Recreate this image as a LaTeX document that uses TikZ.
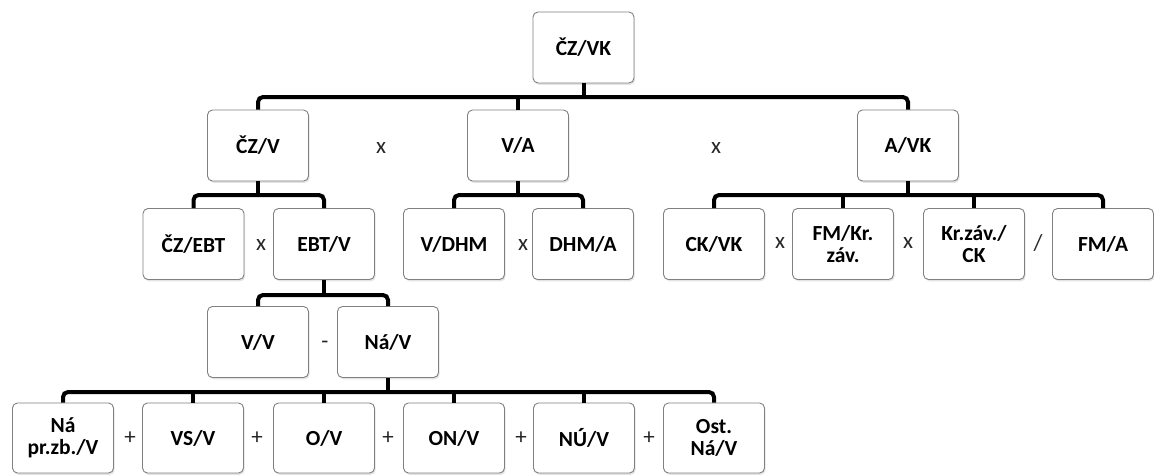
\documentclass[tikz,border=0pt]{standalone}
\usepackage{fontspec}
\setmainfont{Carlito}
\usetikzlibrary{shadows}

\tikzset{
  ratio/.style={
    draw=black!50, line width=0.9pt, fill=white, rounded corners=5pt,
    minimum width=101pt, minimum height=71pt, inner sep=2pt,
    align=center, font=\bfseries\fontsize{21.5}{22}\selectfont,
    drop shadow={shadow xshift=1.2pt, shadow yshift=-1.8pt, opacity=0.22}
  },
  ratiolow/.style={ratio, minimum height=70pt},
  op/.style={font=\fontsize{23}{24}\selectfont, text=black!85, inner sep=0pt},
  link/.style={line width=4pt, line cap=butt},
  bar/.style={link, rounded corners=5pt}
}

\begin{document}
\begin{tikzpicture}[x=1pt, y=1pt]
\useasboundingbox (0,0) rectangle (1154,-475);

% top ratio
\node[ratio] (root) at (583.5,-47.5) {ČZ/VK};

% first decomposition
\node[ratio] (a) at (258,-145.5) {ČZ/V};
\node[ratio] (b) at (518,-145.5) {V/A};
\node[ratio] (c) at (908,-145.5) {A/VK};

% second decomposition
\node[ratio] (a1) at (193.5,-244) {ČZ/EBT};
\node[ratio] (a2) at (324,-244) {EBT/V};
\node[ratio] (b1) at (454,-244) {V/DHM};
\node[ratio] (b2) at (583,-244) {DHM/A};
\node[ratio] (c1) at (714,-244) {CK/VK};
\node[ratio] (c2) at (843,-244) {FM/Kr.\\záv.};
\node[ratio] (c3) at (974,-244) {Kr.záv./\\CK};
\node[ratio] (c4) at (1103,-244) {FM/A};

% EBT/V split
\node[ratio] (d1) at (258,-342) {V/V};
\node[ratio] (d2) at (388,-342) {Ná/V};

% cost items
\node[ratiolow] (e1) at (63,-438) {Ná\\pr.zb./V};
\node[ratiolow] (e2) at (193,-438) {VS/V};
\node[ratiolow] (e3) at (324,-438) {O/V};
\node[ratiolow] (e4) at (454,-438) {ON/V};
\node[ratiolow] (e5) at (584,-438) {NÚ/V};
\node[ratiolow] (e6) at (714,-438) {Ost.\\Ná/V};

% bar levels
\coordinate (l0) at (0,-97);
\coordinate (l1) at (0,-195);
\coordinate (l2) at (0,-295);
\coordinate (l3) at (0,-392);

% connectors
\draw[link] (root.south) -- (root.south |- l0);
\draw[bar] (a.north) |- (root.south |- l0) -| (c.north);
\draw[link] (b.north) -- (b.north |- l0);

\draw[link] (a.south) -- (a.south |- l1);
\draw[bar] (a1.north) |- (a.south |- l1) -| (a2.north);
\draw[link] (b.south) -- (b.south |- l1);
\draw[bar] (b1.north) |- (b.south |- l1) -| (b2.north);
\draw[link] (c.south) -- (c.south |- l1);
\draw[bar] (c1.north) |- (c.south |- l1) -| (c4.north);
\draw[link] (c2.north) -- (c2.north |- l1);
\draw[link] (c3.north) -- (c3.north |- l1);

\draw[link] (a2.south) -- (a2.south |- l2);
\draw[bar] (d1.north) |- (a2.south |- l2) -| (d2.north);

\draw[link] (d2.south) -- (d2.south |- l3);
\draw[bar] (e1.north) |- (d2.south |- l3) -| (e6.north);
\foreach \n in {e2,e3,e4,e5} \draw[link] (\n.north) -- (\n.north |- l3);

% operators
\node[op] (o1) at (381,-148) {x};
\node[op] (o2) at (716,-148) {x};
\node[op] (o3) at (261,-245) {x};
\node[op] (o4) at (523,-245) {x};
\node[op] (o5) at (780,-243) {x};
\node[op] (o6) at (908,-243) {x};
\node[op] (o7) at (1038,-243) {/};
\node[op] (o8) at (325,-345) {-};
\node[op] (o9) at (130,-438) {+};
\node[op] (o10) at (257,-438) {+};
\node[op] (o11) at (388,-438) {+};
\node[op] (o12) at (521,-438) {+};
\node[op] (o13) at (649,-438) {+};
\end{tikzpicture}
\end{document}
